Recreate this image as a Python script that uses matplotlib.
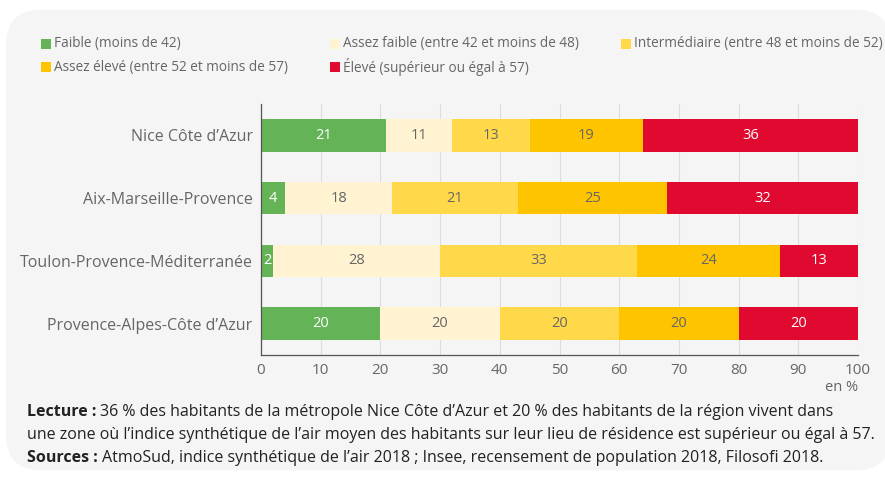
import matplotlib.pyplot as plt
from matplotlib.patches import FancyBboxPatch

plt.rcParams['font.family'] = ['Open Sans', 'DejaVu Sans']

territoires = ['Nice Côte d’Azur', 'Aix-Marseille-Provence',
               'Toulon-Provence-Méditerranée', 'Provence-Alpes-Côte d’Azur']
faible = [21, 4, 2, 20]
assez_faible = [11, 18, 28, 20]
intermediaire = [13, 21, 33, 20]
assez_eleve = [19, 25, 24, 20]
eleve = [36, 32, 13, 20]

series = [
    ('Faible (moins de 42)', faible, '#64b457', 'white'),
    ('Assez faible (entre 42 et moins de 48)', assez_faible, '#fff3d2', '#666666'),
    ('Intermédiaire (entre 48 et moins de 52)', intermediaire, '#ffd94a', '#666666'),
    ('Assez élevé (entre 52 et moins de 57)', assez_eleve, '#ffc400', '#666666'),
    ('Élevé (supérieur ou égal à 57)', eleve, '#e0092f', 'white'),
]

fig = plt.figure(figsize=(8.85, 4.8), dpi=100)
fig.patch.set_facecolor('white')
bg = FancyBboxPatch((6 / 885, 0.02), 1.0, 0.96, boxstyle='round,pad=0,rounding_size=0.04',
                    transform=fig.transFigure, facecolor='#f5f5f5', edgecolor='none',
                    mutation_aspect=885 / 480, zorder=-10)
fig.patches.append(bg)

ax = fig.add_axes([261 / 885, 1 - 355 / 480, 597 / 885, 251 / 480])
ax.set_facecolor('#f5f5f5')

y = list(range(len(territoires)))
left = [0] * len(territoires)
for name, vals, color, tcolor in series:
    bars = ax.barh(y, vals, left=left, height=0.52, color=color, zorder=3)
    for b, v in zip(bars, vals):
        ax.text(b.get_x() + b.get_width() / 2, b.get_y() + b.get_height() / 2, str(v),
                ha='center', va='center', color=tcolor, fontsize=10.5, zorder=4)
    left = [l + v for l, v in zip(left, vals)]

ax.set_xlim(0, 100)
ax.set_ylim(3.5, -0.5)
ax.set_yticks(y)
ax.set_yticklabels(territoires)
ax.set_xticks(range(0, 101, 10))
ax.tick_params(axis='both', colors='#666666', labelsize=11.5, length=0, pad=6)
ax.tick_params(axis='x', labelsize=11, pad=6)
ax.grid(axis='x', color='#dddddd', linewidth=0.8, zorder=0)
for s in ['top', 'right']:
    ax.spines[s].set_visible(False)
for s in ['left', 'bottom']:
    ax.spines[s].set_color('#555555')
    ax.spines[s].set_linewidth(0.9)
    ax.spines[s].set_zorder(5)

ax.text(1.0, -0.13, 'en %', transform=ax.transAxes, ha='right', va='center',
        color='#666666', fontsize=10.5)

# légende
leg_pos = [(41, 44), (330, 44), (621, 44), (41, 67), (330, 67)]
for (name, vals, color, tcolor), (lx, ly) in zip(series, leg_pos):
    fig.patches.append(plt.Rectangle((lx / 885, 1 - (ly + 5) / 480), 10 / 885, 10 / 480,
                                     transform=fig.transFigure, facecolor=color,
                                     edgecolor='none'))
    fig.text((lx + 13) / 885, 1 - ly / 480, name, ha='left', va='center',
             color='#666666', fontsize=9.8)

# notes
notes = [
    ('Lecture : ', '36 % des habitants de la métropole Nice Côte d’Azur et 20 % des habitants de la région vivent dans', 412),
    ('', 'une zone où l’indice synthétique de l’air moyen des habitants sur leur lieu de résidence est supérieur ou égal à 57.', 435),
    ('Sources : ', 'AtmoSud, indice synthétique de l’air 2018 ; Insee, recensement de population 2018, Filosofi 2018.', 458),
]
renderer = fig.canvas.get_renderer()
# taille ajustée pour que la 2e ligne occupe ~850 px
probe = fig.text(0, 0, notes[1][1], fontsize=10)
w = probe.get_window_extent(renderer=renderer).width
probe.remove()
fs = 10 * 850 / w
for bold, txt, ny in notes:
    x0 = 27 / 885
    if bold:
        t = fig.text(x0, 1 - ny / 480, bold, ha='left', va='center', fontsize=fs,
                     fontweight='bold', color='#222222')
        bb = t.get_window_extent(renderer=renderer)
        x0 = bb.x1 / fig.bbox.width
    fig.text(x0, 1 - ny / 480, txt, ha='left', va='center', fontsize=fs,
             color='#222222')

fig.savefig('out.png', dpi=100, facecolor=fig.get_facecolor())
